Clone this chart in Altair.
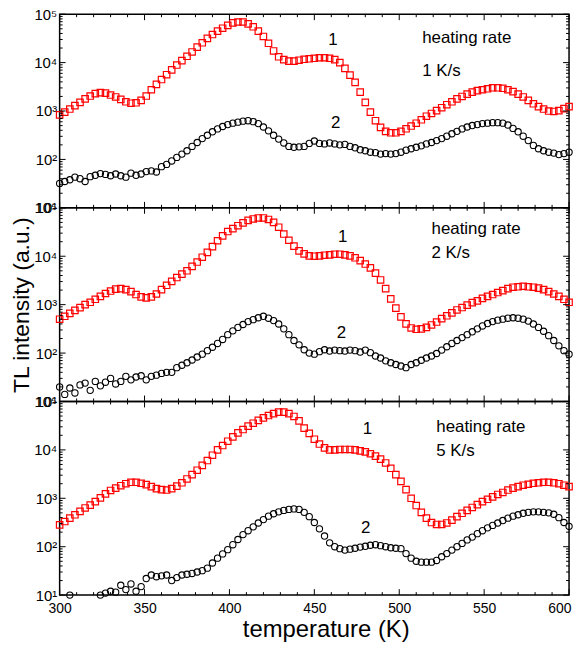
import altair as alt
import pandas as pd

# temperature grid (K), one marker every 3 K
temperature = list(range(300, 601, 3))

# ---- panel 1 : heating rate 1 K/s ----
p1_red = [830, 950, 1100, 1290, 1510, 1780, 2040, 2290, 2400, 2340,
          2140, 1950, 1740, 1550, 1450, 1480, 1660, 2040, 2750, 3550,
          4470, 5620, 7080, 8900, 11000, 13500, 16600, 20900, 25700, 31600,
          38000, 44700, 51300, 58900, 66000, 69000, 69000, 63000, 55000, 44700,
          34700, 25100, 17400, 13200, 11500, 10700, 10700, 11200, 11700, 12000,
          12300, 12600, 12600, 12300, 11500, 10000, 7600, 5500, 3900, 2450,
          1510, 950, 630, 460, 380, 355, 355, 380, 430, 490,
          560, 660, 780, 890, 1020, 1170, 1350, 1550, 1780, 2000,
          2240, 2450, 2630, 2750, 2880, 3020, 3020, 2950, 2750, 2510,
          2240, 1950, 1660, 1410, 1230, 1100, 1000, 980, 1020, 1120,
          1230]
p1_black = [32, 35, 38, 43, 40, 35, 44, 47, 51, 49,
            46, 50, 46, 43, 52, 47, 50, 56, 58, 55,
            71, 79, 93, 110, 129, 151, 186, 224, 269, 316,
            372, 427, 479, 525, 562, 589, 617, 631, 603, 550,
            468, 389, 316, 263, 219, 186, 178, 182, 186, 214,
            240, 214, 209, 219, 209, 200, 204, 186, 174, 158,
            151, 141, 138, 129, 132, 129, 132, 141, 155, 166,
            178, 191, 209, 224, 245, 269, 302, 339, 380, 427,
            468, 501, 525, 550, 562, 575, 575, 562, 513, 437,
            372, 302, 245, 195, 166, 151, 141, 135, 126, 132,
            141]

# ---- panel 2 : heating rate 2 K/s ----
p2_red = [500, 575, 660, 760, 870, 1000, 1120, 1290, 1480, 1700,
          1910, 2090, 2140, 2040, 1860, 1620, 1450, 1380, 1450, 1660,
          2040, 2510, 3020, 3630, 4270, 5010, 6170, 7590, 9550, 12000,
          15800, 20900, 26300, 32400, 37200, 42700, 49000, 55000, 58900, 61700,
          61700, 57500, 50100, 39800, 28800, 21400, 16200, 12900, 11200, 10200,
          10000, 10200, 10500, 10700, 11000, 11000, 10700, 10200, 9300, 8100,
          6900, 5750, 4470, 3240, 2140, 1320, 850, 560, 400, 330,
          310, 316, 339, 380, 437, 513, 589, 676, 776, 871,
          977, 1100, 1200, 1350, 1480, 1620, 1780, 1950, 2140, 2290,
          2340, 2400, 2340, 2290, 2190, 2040, 1860, 1660, 1480, 1290,
          1120]
p2_black = [20, 14, 19, 15, 22, 24, 17, 26, 21, 25,
            30, 23, 26, 33, 28, 32, 34, 28, 33, 35,
            38, 40, 40, 50, 56, 63, 72, 83, 95, 112,
            132, 158, 191, 240, 288, 339, 389, 447, 490, 537,
            575, 525, 468, 398, 316, 240, 182, 148, 117, 100,
            95, 107, 117, 110, 115, 112, 110, 115, 112, 105,
            115, 102, 87, 79, 69, 63, 58, 54, 50, 58,
            63, 71, 79, 87, 98, 115, 135, 158, 182, 209,
            240, 275, 316, 363, 407, 447, 479, 501, 525, 537,
            525, 501, 457, 398, 339, 282, 229, 182, 141, 112,
            95]

# ---- panel 3 : heating rate 5 K/s ----
p3_red = [282, 331, 389, 457, 537, 631, 724, 851, 1020, 1230,
          1450, 1620, 1820, 2000, 2140, 2140, 2040, 1910, 1740, 1580,
          1510, 1480, 1580, 1780, 2090, 2510, 3090, 3800, 4790, 6030,
          7760, 10000, 12300, 15100, 18600, 22400, 26300, 30900, 35500, 40700,
          45700, 51300, 56200, 60300, 60300, 56200, 49000, 39800, 28200, 21900,
          16600, 13200, 11000, 10000, 10000, 10200, 10200, 10200, 10000, 9550,
          9120, 8320, 7410, 6460, 5370, 4170, 3090, 2240, 1510, 1000,
          708, 513, 389, 316, 288, 288, 309, 355, 417, 490,
          562, 646, 741, 851, 955, 1070, 1200, 1320, 1480, 1620,
          1740, 1860, 1950, 2040, 2090, 2140, 2140, 2090, 2000, 1860,
          1740]
p3_black = [None, None, 10, None, None, None, None, None, 10, 11,
            12, 11.5, 16, 13, 17, 12, 15, 22, 26, 24,
            25, 26, 20, 23, 26, 27, 28, 30, 32, 36,
            46, 58, 71, 87, 110, 141, 178, 214, 257, 309,
            363, 427, 479, 525, 562, 589, 603, 589, 513, 417,
            316, 234, 166, 120, 100, 91, 85, 89, 93, 98,
            102, 107, 110, 105, 100, 95, 93, 91, 72, 58,
            50, 48, 48, 48, 52, 62, 72, 85, 100, 117,
            138, 158, 186, 214, 245, 275, 309, 347, 389, 427,
            457, 490, 513, 525, 525, 513, 501, 468, 398, 316,
            263]

# annotation texts
rate_labels = ["1 K/s", "2 K/s", "5 K/s"]
curve_labels = ["1", "2"]
ann_curve_T = [[461, 462.6], [466.7, 466], [481.3, 480.3]]
ann_curve_v = [[29500, 575], [25100, 263], [27500, 245]]
ann_rate_T = [513.5, 519, 521.8]
ann_rate_v = [[32400, 6600], [37200, 11500], [29500, 9550]]

# tick values
x_label_values = [300, 350, 400, 450, 500, 550, 600]
x_minor = [t for t in range(310, 600, 10) if t % 50]
y_major = [10, 100, 1000, 10000, 100000]
y_minor = [m * 10 ** e for e in range(1, 5) for m in range(2, 10)]

FONT = "Liberation Sans"
W, H = 513, 195

xscale = alt.Scale(domain=[300, 600], nice=False, zero=False)
yscale = alt.Scale(type="log", domain=[10, 100000], nice=False)

SUP = "['\u2070','\u00b9','\u00b2','\u00b3','\u2074','\u2075']"
label_expr = "'10' + " + SUP + "[round(log(datum.value)/LN10)]"


def make_panel(red, black, idx, bottom):
    yaxis = alt.Axis(values=y_major, labelExpr=label_expr, ticks=False, domain=False,
                     grid=False, labelFontSize=15, labelFont=FONT, labelColor="black",
                     labelPadding=3, labelFlush=False,
                     title="TL intensity (a.u.)", titleFontSize=23,
                     titleFont=FONT, titleFontWeight="normal", titleColor="black",
                     titleOpacity=1 if idx == 1 else 0, titlePadding=0)
    if bottom:
        xaxis = alt.Axis(values=x_label_values, format="d", ticks=False, domain=False,
                         grid=False, labelFontSize=14, labelFont=FONT, labelColor="black",
                         labelPadding=7, labelFlush=False,
                         labelAlign={"condition": {"test": "datum.value == 600", "value": "right"},
                                     "value": "center"},
                         labelOffset={"condition": {"test": "datum.value == 600", "value": 2},
                                      "value": 0},
                         title="temperature (K)", titleFontSize=24,
                         titleFont=FONT, titleFontWeight="normal", titleColor="black",
                         titlePadding=2, titleX=268, titleAnchor="middle")
    else:
        xaxis = None

    def X(f):
        return alt.X(f, type="quantitative", scale=xscale, axis=xaxis)

    def Y(f):
        return alt.Y(f, type="quantitative", scale=yscale, axis=yaxis)

    df = pd.DataFrame({"T": temperature, "red": red, "black": black})
    base = alt.Chart(df)
    red_pts = base.mark_point(shape="square", filled=False, color="#ff0000", size=42,
                              strokeWidth=1.2, opacity=1).encode(x=X("T"), y=Y("red"))
    black_pts = base.mark_point(shape="circle", filled=False, color="black", size=40,
                                strokeWidth=1.1, opacity=1).encode(x=X("T"), y=Y("black"))

    cdf = pd.DataFrame({"T": ann_curve_T[idx], "v": ann_curve_v[idx], "label": curve_labels})
    curve_txt = alt.Chart(cdf).mark_text(align="center", baseline="middle", fontSize=17,
                                         font=FONT, color="black").encode(
        x=X("T"), y=Y("v"), text="label:N")
    rdf = pd.DataFrame({"T": [ann_rate_T[idx]] * 2, "v": ann_rate_v[idx],
                        "label": ["heating rate", rate_labels[idx]]})
    rate_txt = alt.Chart(rdf).mark_text(align="left", baseline="middle", fontSize=17,
                                        font=FONT, color="black").encode(
        x=X("T"), y=Y("v"), text="label:N")

    xmaj = alt.Chart(pd.DataFrame({"T": x_label_values}))
    xmin = alt.Chart(pd.DataFrame({"T": x_minor}))
    ymaj = alt.Chart(pd.DataFrame({"v": y_major}))
    ymin = alt.Chart(pd.DataFrame({"v": y_minor}))
    rule = dict(color="black", strokeWidth=1)
    ticks = [
        xmaj.mark_rule(**rule).encode(x=X("T"), y=alt.value(0), y2=alt.value(6)),
        xmaj.mark_rule(**rule).encode(x=X("T"), y=alt.value(H), y2=alt.value(H - 6)),
        xmin.mark_rule(**rule).encode(x=X("T"), y=alt.value(0), y2=alt.value(3)),
        xmin.mark_rule(**rule).encode(x=X("T"), y=alt.value(H), y2=alt.value(H - 3)),
        ymaj.mark_rule(**rule).encode(y=Y("v"), x=alt.value(0), x2=alt.value(6)),
        ymaj.mark_rule(**rule).encode(y=Y("v"), x=alt.value(W), x2=alt.value(W - 6)),
        ymin.mark_rule(**rule).encode(y=Y("v"), x=alt.value(0), x2=alt.value(3)),
        ymin.mark_rule(**rule).encode(y=Y("v"), x=alt.value(W), x2=alt.value(W - 3)),
    ]
    return alt.layer(red_pts, black_pts, curve_txt, rate_txt, *ticks).properties(
        width=W, height=H)


chart = alt.vconcat(
    make_panel(p1_red, p1_black, 0, False),
    make_panel(p2_red, p2_black, 1, False),
    make_panel(p3_red, p3_black, 2, True),
    spacing=0,
    bounds="flush",
).properties(
    padding={"left": 2, "top": -4, "right": 0, "bottom": 0}
).configure_view(stroke="black", strokeWidth=1.5)

chart.save("out.html", embed_options={"renderer": "svg", "actions": False})
